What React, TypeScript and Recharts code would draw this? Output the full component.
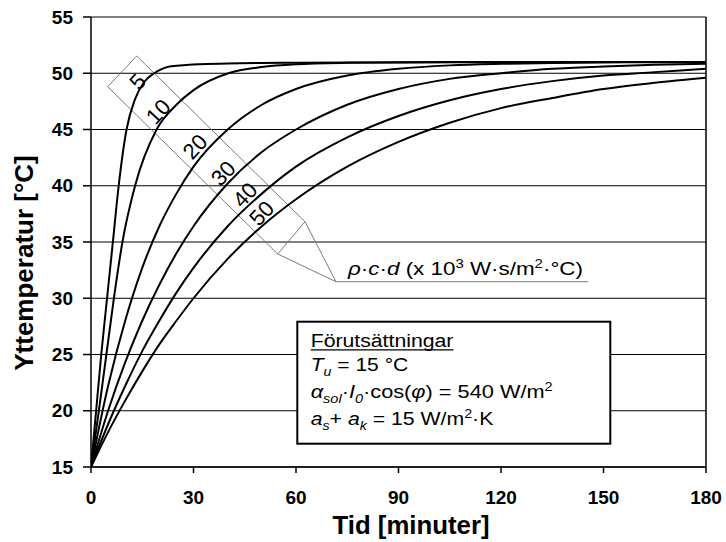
import React from 'react';
import { LineChart, Line, XAxis, YAxis, CartesianGrid, ReferenceLine, Customized } from 'recharts';

const FONT = '"Liberation Sans", Arial, Helvetica, sans-serif';

const xTicks = [0, 30, 60, 90, 120, 150, 180];
const yTicks = [15, 20, 25, 30, 35, 40, 45, 50, 55];

// rho*c*d = 5
const t5 = [0, 1.5, 3.0, 4.7, 6.4, 8.1, 10.4, 12.9, 15.5, 18.5, 20.5, 23, 27, 32, 40, 60, 90, 120, 150, 180];
const v5 = [15, 20, 25, 30, 35, 40, 45, 47.7, 49.2, 50, 50.35, 50.6, 50.72, 50.8, 50.87, 50.93, 50.96, 50.98, 50.99, 51];
// rho*c*d = 10
const t10 = [0, 2.3, 4.5, 6.7, 9.2, 12.9, 19.2, 25, 30, 40.2, 50, 60, 75, 90, 120, 150, 180];
const v10 = [15, 20, 25, 30, 35, 40, 45, 47.2, 48.5, 50, 50.55, 50.8, 50.93, 50.97, 51, 51, 51];
// common time base for 20..50
const tStd = [0, 5, 10, 15, 20, 25, 30, 40, 50, 60, 75, 90, 105, 120, 135, 150, 165, 180];
const v20 = [15, 22.2, 28.0, 32.7, 36.4, 39.3, 41.7, 45.0, 47.2, 48.6, 49.8, 50.4, 50.7, 50.84, 50.92, 50.96, 50.98, 50.99];
const v30 = [15, 20.0, 24.3, 28.0, 31.2, 34.0, 36.4, 40.2, 43.0, 45.0, 47.2, 48.6, 49.5, 50.0, 50.4, 50.6, 50.75, 50.84];
const v40 = [15, 18.8, 22.2, 25.3, 28.0, 30.5, 32.7, 36.4, 39.3, 41.7, 44.3, 46.2, 47.6, 48.6, 49.3, 49.8, 50.1, 50.4];
const v50 = [15, 18.1, 20.9, 23.5, 25.9, 28.0, 30.0, 33.5, 36.4, 38.8, 41.7, 43.9, 45.6, 46.9, 47.8, 48.6, 49.15, 49.6];

const curveLabels = ['5', '10', '20', '30', '40', '50'];

const toRows = (ts: number[], vs: number[]) => ts.map((t, i) => ({ t, v: vs[i] }));
const series = [
  toRows(t5, v5),
  toRows(t10, v10),
  toRows(tStd, v20),
  toRows(tStd, v30),
  toRows(tStd, v40),
  toRows(tStd, v50),
];

// label centres along the rotated box (pixels)
const labelPos = [
  [137.7, 81.7],
  [158.3, 111.7],
  [195, 146.7],
  [223.3, 173.3],
  [245, 195],
  [261.7, 213.3],
];

const Annotations = () => (
  <g fontFamily={FONT}>
    {/* rotated label box */}
    <polygon points="136.7,56 107.7,86.7 277.7,254 305,221.7" fill="none" stroke="#7a7a7a" strokeWidth={1} />
    <polyline points="305,221.7 336,281.7 588,281.7" fill="none" stroke="#7a7a7a" strokeWidth={1} />
    <line x1={277.7} y1={254} x2={336} y2={281.7} stroke="#7a7a7a" strokeWidth={1} />
    {curveLabels.map((l, i) => (
      <text
        key={l}
        transform={`translate(${labelPos[i][0]},${labelPos[i][1]}) rotate(-47)`}
        textAnchor="middle"
        dominantBaseline="central"
        fontSize={22}
        fill="#000"
      >
        {l}
      </text>
    ))}
    <text x={348} y={274.5} fontSize={18} fill="#000" textLength={235} lengthAdjust="spacingAndGlyphs">
      <tspan fontStyle="italic">ρ</tspan>
      <tspan>·</tspan>
      <tspan fontStyle="italic">c</tspan>
      <tspan>·</tspan>
      <tspan fontStyle="italic">d</tspan>
      <tspan>{' (x 10'}</tspan>
      <tspan dy={-7} fontSize={12}>3</tspan>
      <tspan dy={7}>{' W·s/m'}</tspan>
      <tspan dy={-7} fontSize={12}>2</tspan>
      <tspan dy={7}>{'·°C)'}</tspan>
    </text>

    {/* conditions box */}
    <rect x={297.3} y={321.7} width={313} height={122} fill="#fff" stroke="#000" strokeWidth={2} />
    <text x={310.7} y={346.7} fontSize={18} fill="#000" textLength={142.7} lengthAdjust="spacingAndGlyphs">
      Förutsättningar
    </text>
    <line x1={310.7} y1={349.8} x2={453.4} y2={349.8} stroke="#000" strokeWidth={1.2} />
    <text x={310.7} y={371} fontSize={18} fill="#000" textLength={97.6} lengthAdjust="spacingAndGlyphs">
      <tspan fontStyle="italic">T</tspan>
      <tspan fontStyle="italic" fontSize={12} dy={5}>u</tspan>
      <tspan dy={-5}>{' = 15 °C'}</tspan>
    </text>
    <text x={310.7} y={398} fontSize={18} fill="#000" textLength={242} lengthAdjust="spacingAndGlyphs">
      <tspan fontStyle="italic">α</tspan>
      <tspan fontStyle="italic" fontSize={12} dy={5}>sol</tspan>
      <tspan dy={-5}>·</tspan>
      <tspan fontStyle="italic">I</tspan>
      <tspan fontStyle="italic" fontSize={12} dy={5}>0</tspan>
      <tspan dy={-5}>·cos(</tspan>
      <tspan fontStyle="italic">φ</tspan>
      <tspan>{') = 540 W/m'}</tspan>
      <tspan dy={-7} fontSize={12}>2</tspan>
    </text>
    <text x={310.7} y={425} fontSize={18} fill="#000" textLength={182.6} lengthAdjust="spacingAndGlyphs">
      <tspan fontStyle="italic">a</tspan>
      <tspan fontStyle="italic" fontSize={12} dy={5}>s</tspan>
      <tspan dy={-5}>{'+ '}</tspan>
      <tspan fontStyle="italic">a</tspan>
      <tspan fontStyle="italic" fontSize={12} dy={5}>k</tspan>
      <tspan dy={-5}>{' = 15 W/m'}</tspan>
      <tspan dy={-7} fontSize={12}>2</tspan>
      <tspan dy={7}>·K</tspan>
    </text>

    {/* axis titles */}
    <text
      transform="translate(32.5,263) rotate(-90)"
      textAnchor="middle"
      fontSize={26}
      fontWeight={700}
      fill="#000"
    >
      Yttemperatur [°C]
    </text>
    <text x={411} y={534} textAnchor="middle" fontSize={26} fontWeight={700} fill="#000" textLength={157} lengthAdjust="spacingAndGlyphs">
      Tid [minuter]
    </text>
  </g>
);

export default function App() {
  const tickStyle = { fill: '#000', fontSize: 19, fontWeight: 700, fontFamily: FONT };
  return (
    <div style={{ position: 'absolute', left: 0, top: 0, width: 726, height: 542, background: '#fff' }}>
      <LineChart width={726} height={542} margin={{ top: 17, right: 20, bottom: 0, left: 0 }}>
        <CartesianGrid vertical={false} stroke="#000" strokeWidth={1} />
        <XAxis
          type="number"
          dataKey="t"
          domain={[0, 180]}
          ticks={xTicks}
          interval={0}
          allowDataOverflow
          height={75}
          tickSize={6}
          tickMargin={18}
          tick={tickStyle}
          axisLine={{ stroke: '#000', strokeWidth: 1.5 }}
          tickLine={{ stroke: '#000', strokeWidth: 1.5 }}
        />
        <YAxis
          type="number"
          domain={[15, 55]}
          ticks={yTicks}
          interval={0}
          allowDataOverflow
          width={91}
          tickSize={8}
          tickMargin={10}
          tick={tickStyle}
          axisLine={{ stroke: '#000', strokeWidth: 1.5 }}
          tickLine={{ stroke: '#000', strokeWidth: 1.5 }}
        />
        <ReferenceLine x={180} stroke="#000" strokeWidth={1.5} />
        {series.map((d, i) => (
          <Line
            key={curveLabels[i]}
            data={d}
            dataKey="v"
            type="monotone"
            stroke="#000"
            strokeWidth={2}
            dot={false}
            activeDot={false}
            isAnimationActive={false}
          />
        ))}
        <Customized component={<Annotations />} />
      </LineChart>
    </div>
  );
}
